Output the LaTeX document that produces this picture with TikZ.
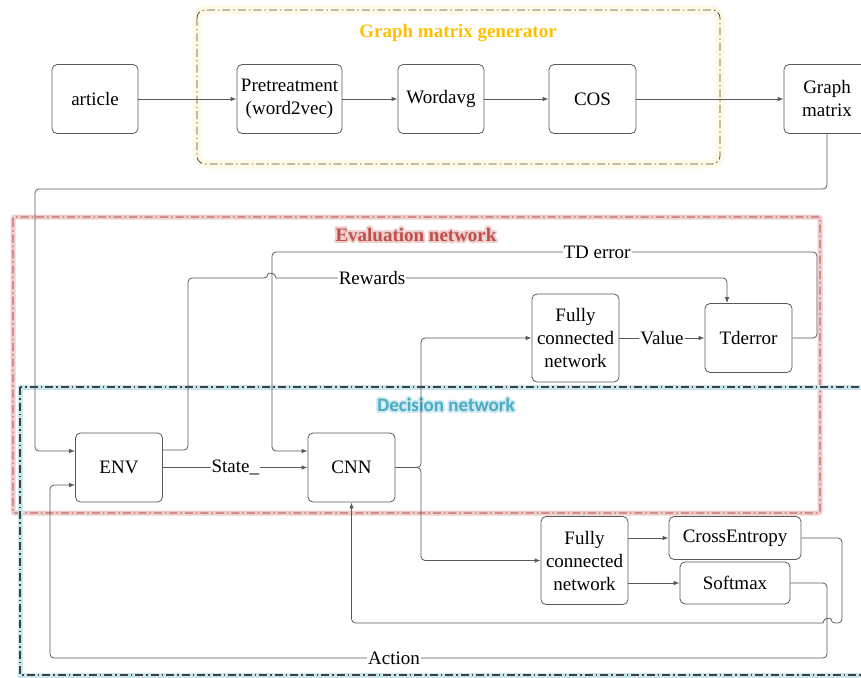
\documentclass[tikz,border=0pt]{standalone}
\usepackage{fontspec}
\setmainfont{Liberation Serif}
\newfontfamily\titlesans{Carlito}
\usetikzlibrary{arrows.meta,calc}

\definecolor{gold}{HTML}{FFC000}
\definecolor{evalred}{HTML}{C0504D}
\definecolor{decblue}{HTML}{4BACC6}
\definecolor{edge}{HTML}{595959}

\newcommand\lblfont{\fontsize{19}{23}\selectfont}
\newcommand\ttlfont{\bfseries\fontsize{19}{22}\selectfont}

% title with a soft coloured halo
\newcommand\glowtitle[4]{%
  \foreach \a in {0,30,...,330}
    \node[font=#3,text=#2!28] at ($(#1)+(\a:1.8)$) {#4};
  \node[font=#3,text=#2] at (#1) {#4};}

\begin{document}
\begin{tikzpicture}[x=1pt,y=-1pt,
  box/.style={draw=black!65,line width=0.8pt,rounded corners=5pt,fill=white,
    inner sep=0pt,align=center,font=\lblfont},
  conn/.style={draw=edge,line width=0.8pt,rounded corners=4pt},
  arr/.style={conn,-{Latex[length=6pt,width=4.5pt]}},
  onlabel/.style={fill=white,inner sep=1pt,font=\lblfont},
  dashdot/.style={dash pattern=on 8pt off 3pt on 1.5pt off 3pt}]
\useasboundingbox (0,0) rectangle (861,677);

% ---- group frames ----
\draw[line width=9pt,gold!10,rounded corners=10pt] (197,10) rectangle (720,164);
\draw[line width=0.8pt,black!70,dashdot,rounded corners=8pt] (197,10) rectangle (720,164);

\draw[line width=5pt,evalred!28,rounded corners=2pt] (13,217) rectangle (820,513);
\draw[line width=1.2pt,evalred!85,dashdot,rounded corners=2pt] (13,217) rectangle (820,513);

\draw[line width=5pt,decblue!30] (20,387) rectangle (880,675);
\draw[line width=1.2pt,black!75,dashdot] (20,387) rectangle (880,675);

\node[font=\ttlfont,text=gold] (ttlgen) at (458,33) {Graph matrix generator};
\glowtitle{416,235}{evalred}{\ttlfont}{Evaluation network}
\glowtitle{446,405}{decblue}{\titlesans\bfseries\fontsize{19}{22}\selectfont}{Decision network}

% ---- blocks ----
\node[box,minimum width=86pt,minimum height=69pt] (article) at (95,99) {article};
\node[box,minimum width=105pt,minimum height=69pt] (pre) at (289.5,99) {Pretreatment\\(word2vec)};
\node[box,minimum width=86pt,minimum height=69pt] (wavg) at (441,99) {Wordavg};
\node[box,minimum width=87pt,minimum height=69pt] (cos) at (592.5,99) {COS};
\node[box,minimum width=86pt,minimum height=69pt] (gm) at (827,99) {Graph\\matrix};

\node[box,minimum width=87pt,minimum height=69pt] (env) at (119,467.5) {ENV};
\node[box,minimum width=87pt,minimum height=69pt] (cnn) at (351.5,467.5) {CNN};
\node[box,minimum width=87pt,minimum height=88pt] (fc1) at (575.5,338) {Fully\\connected\\network};
\node[box,minimum width=87pt,minimum height=69pt] (td) at (748.5,338) {Tderror};
\node[box,minimum width=87pt,minimum height=88pt] (fc2) at (584.5,560.5) {Fully\\connected\\network};
\node[box,minimum width=132pt,minimum height=43pt] (ce) at (735,538) {CrossEntropy};
\node[box,minimum width=110pt,minimum height=42pt] (sm) at (735,583) {Softmax};

% ---- connectors ----
\draw[arr] (article) -- (pre);
\draw[arr] (pre) -- (wavg);
\draw[arr] (wavg) -- (cos);
\draw[arr] (cos) -- (gm);

\draw[arr] (gm.south) -- (827,189) -- (35,189) -- (35,451) -- ([yshift=16.5pt]env.west);

\draw[arr] (env.east) -- node[onlabel]{State\_} (cnn.west);

\draw[arr] ([yshift=17.5pt]env.east) -- (188,450) -- (188,278) -- (268,278)
  [sharp corners] .. controls (268,272.5) and (276,272.5) .. (276,278)
  [rounded corners=4pt] -- (727,278) -- ([xshift=-21.5pt]td.north);
\node[onlabel] (lrew) at (372,278) {Rewards};

\draw[arr] (td.east) -- (817,338) -- (817,252) -- (272,252) -- (272,451)
  -- ([yshift=16.5pt]cnn.west);
\node[onlabel] (ltd) at (597,252) {TD error};

\draw[arr] (cnn.east) -- (421,467.5) -- (421,338) -- (fc1.west);
\draw[arr] (cnn.east) -- (421,467.5) -- (421,560.5) -- (fc2.west);

\draw[arr] (fc1.east) -- node[onlabel]{Value} (td.west);

\draw[arr] ([yshift=22.5pt]fc2.east) -- (ce.west);
\draw[arr] ([yshift=-22.5pt]fc2.east) -- (sm.west);

\draw[arr] (ce.east) -- (842,538) -- (842,623) -- (831,623)
  [sharp corners] .. controls (831,617.5) and (823,617.5) .. (823,623)
  [rounded corners=4pt] -- (351.5,623) -- (cnn.south);

\draw[arr] (sm.east) -- (827,583) -- (827,658) -- (50,658) -- (50,485)
  -- ([yshift=-17.5pt]env.west);
\node[onlabel] (lact) at (394,658) {Action};
\end{tikzpicture}
\end{document}
